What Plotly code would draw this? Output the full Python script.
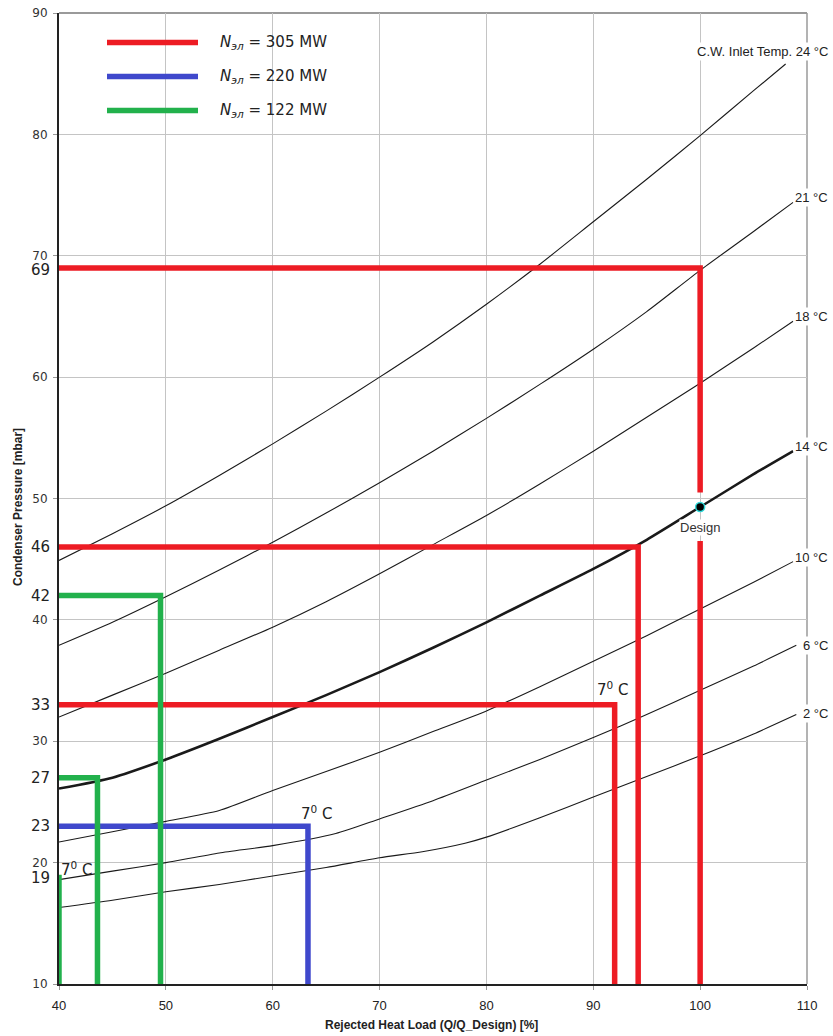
import plotly.graph_objects as go

# ---- condenser characteristic: rejected heat load [%] -> condenser pressure [mbar]
load_t24 = [40, 45, 50, 55, 60, 65, 70, 75, 80, 85, 90, 95, 100, 105, 108]
pres_t24 = [44.9, 47.1, 49.4, 51.9, 54.5, 57.2, 60.0, 62.9, 66.0, 69.3, 72.8, 76.3, 79.9, 83.6, 85.8]

load_t21 = [40, 45, 50, 55, 60, 65, 70, 75, 80, 85, 90, 95, 100, 105, 108.7]
pres_t21 = [37.9, 39.8, 41.9, 44.1, 46.4, 48.8, 51.3, 53.9, 56.6, 59.4, 62.3, 65.4, 68.8, 72.0, 74.4]

load_t18 = [40, 45, 50, 55, 60, 65, 70, 75, 80, 85, 90, 95, 100, 105, 108.7]
pres_t18 = [32.0, 33.8, 35.6, 37.5, 39.4, 41.5, 43.8, 46.2, 48.6, 51.2, 53.9, 56.7, 59.5, 62.4, 64.6]

load_t14 = [40, 45, 50, 55, 60, 65, 70, 75, 80, 85, 90, 95, 100, 105, 108.7]
pres_t14 = [26.1, 27.0, 28.5, 30.2, 32.0, 33.8, 35.7, 37.7, 39.8, 42.0, 44.2, 46.6, 49.3, 52.0, 53.9]

load_t10 = [40, 45, 50, 55, 60, 65, 70, 75, 80, 85, 90, 95, 100, 105, 108.7]
pres_t10 = [21.7, 22.55, 23.4, 24.3, 25.95, 27.5, 29.1, 30.8, 32.5, 34.5, 36.6, 38.7, 40.9, 43.1, 44.8]

load_t6 = [40, 45, 50, 55, 60, 65.9, 70, 75, 80, 85, 90, 95, 100, 105, 109]
pres_t6 = [18.6, 19.3, 20.0, 20.8, 21.4, 22.4, 23.6, 25.1, 26.8, 28.5, 30.3, 32.2, 34.2, 36.2, 37.9]

load_t2 = [40, 45, 50, 55, 60, 65, 70, 74, 78, 80, 85, 90, 95, 100, 105, 109]
pres_t2 = [16.3, 16.9, 17.6, 18.2, 18.9, 19.6, 20.4, 20.9, 21.6, 22.1, 23.7, 25.4, 27.1, 28.8, 30.6, 32.2]

curve_names = ["C.W. Inlet Temp. 24 °C", "21 °C", "18 °C", "14 °C", "10 °C", "6 °C", "2 °C"]

design_load = [100]
design_pres = [49.3]

# ---- operating points for the three electrical loads
load_305 = [100, 94.2, 92]
pres_305 = [69, 46, 33]
gap_305 = [50.5, 46.5]          # break of the 100 % line around the design point

load_220 = [63.3]
pres_220 = [23]

load_122 = [49.5, 43.6, 40]
pres_122 = [42, 27, 19]

legend_text = ["<i>N<sub>эл</sub></i> = 305 MW",
               "<i>N<sub>эл</sub></i> = 220 MW",
               "<i>N<sub>эл</sub></i> = 122 MW"]

x_ticks = [40, 50, 60, 70, 80, 90, 100, 110]
y_ticks = [10, 20, 30, 40, 50, 60, 70, 80, 90]

RED, BLUE, GREEN = "#ED1C24", "#3F48CC", "#22B14C"
P_MIN = 10

# plot-area geometry in pixels (for paper-coordinate helpers)
W, H = 833, 1036
ML, MR, MT, MB = 59, 26, 13, 52
PW, PH = W - ML - MR, H - MT - MB


def px_x(p):
    return (p - ML) / PW


def px_y(p):
    return (H - MB - p) / PH


fig = go.Figure()

curves = [
    (load_t24, pres_t24, 1.1), (load_t21, pres_t21, 1.1), (load_t18, pres_t18, 1.1),
    (load_t14, pres_t14, 2.6), (load_t10, pres_t10, 1.1), (load_t6, pres_t6, 1.1),
    (load_t2, pres_t2, 1.1),
]
for (lx, py, lw), name in zip(curves, curve_names):
    fig.add_trace(go.Scatter(x=lx, y=py, mode="lines", name=name,
                             line=dict(color="#1a1a1a", width=lw, shape="spline", smoothing=0.6),
                             hoverinfo="skip", showlegend=False))


def step_path(load, pres):
    """horizontal from the axis to the curve, then down to the bottom axis"""
    xs, ys = [], []
    for l, p in zip(load, pres):
        xs += [40, l, l, None]
        ys += [p, p, P_MIN, None]
    return xs, ys


# 305 MW: first path is broken around the design marker
xs = [40, load_305[0], load_305[0], None, load_305[0], load_305[0], None]
ys = [pres_305[0], pres_305[0], gap_305[0], None, gap_305[1], P_MIN, None]
x2, y2 = step_path(load_305[1:], pres_305[1:])
fig.add_trace(go.Scatter(x=xs + x2, y=ys + y2, mode="lines", cliponaxis=False,
                         line=dict(color=RED, width=5.5), showlegend=False, hoverinfo="skip"))

xb, yb = step_path(load_220, pres_220)
fig.add_trace(go.Scatter(x=xb, y=yb, mode="lines", cliponaxis=False,
                         line=dict(color=BLUE, width=5.5), showlegend=False, hoverinfo="skip"))

xg, yg = step_path(load_122, pres_122)
fig.add_trace(go.Scatter(x=xg, y=yg, mode="lines", cliponaxis=False,
                         line=dict(color=GREEN, width=5.5), showlegend=False, hoverinfo="skip"))

# design point
fig.add_trace(go.Scatter(x=design_load, y=design_pres, mode="markers", cliponaxis=False,
                         marker=dict(color="black", size=9, line=dict(color="#2FD9D9", width=1.5)),
                         showlegend=False, hoverinfo="skip"))

annotations = []

# curve labels, right-aligned past the frame
label_dy = [12, 5, 5, 4.5, 4, 0, 1.5]
for (lx, py, _), name, dy in zip(curves, curve_names, label_dy):
    annotations.append(dict(x=px_x(830), xref="paper", y=py[-1], yref="y",
                            text=name, showarrow=False, xanchor="right", yanchor="middle",
                            yshift=dy, bgcolor="white", borderpad=1,
                            font=dict(family="Liberation Sans, Arial", size=13, color="#222")))

annotations.append(dict(x=design_load[0], y=design_pres[0], xref="x", yref="y",
                        text="Design", showarrow=False, yshift=-20, bgcolor="white", borderpad=0,
                        xanchor="center", yanchor="middle",
                        font=dict(family="Liberation Sans, Arial", size=13, color="#333")))

# operating pressures written next to the y axis
press_dy = {69: -2, 19: -3}
for p in pres_305 + pres_220 + pres_122:
    annotations.append(dict(x=0, xref="paper", y=p, yref="y", text=str(p),
                            showarrow=False, xanchor="right", yanchor="middle", xshift=-7,
                            yshift=press_dy.get(p, 0),
                            font=dict(family="DejaVu Sans, Verdana", size=15, color="#222")))

# 7 °C markers at the corresponding corners
seven_c = [(load_305[2], pres_305[2], -2, 16), (load_220[0], pres_220[0], 9, 13),
           (load_122[2], pres_122[2], 17, 6)]
for lx, py, dx, dy in seven_c:
    annotations.append(dict(x=lx, y=py, xref="x", yref="y", text="7<sup>0</sup> C",
                            showarrow=False, xshift=dx, yshift=dy,
                            xanchor="center", yanchor="middle",
                            font=dict(family="DejaVu Sans, Verdana", size=15, color="#222")))

# axis titles
annotations.append(dict(x=px_x(18), y=px_y(507), xref="paper", yref="paper",
                        xanchor="center", yanchor="middle",
                        text="<b>Condenser Pressure [mbar]</b>", textangle=-90, showarrow=False,
                        font=dict(family="Liberation Sans, Arial", size=12, color="#222")))
annotations.append(dict(x=px_x(431), y=px_y(1025), xref="paper", yref="paper",
                        xanchor="center", yanchor="middle",
                        text="<b>Rejected Heat Load (Q/Q_Design) [%]</b>", showarrow=False,
                        font=dict(family="Liberation Sans, Arial", size=12, color="#222")))

# legend block
legend_rows = [42.5, 76.5, 110.5]
shapes = []
for row, col, txt in zip(legend_rows, [RED, BLUE, GREEN], legend_text):
    shapes.append(dict(type="line", xref="paper", yref="paper",
                       x0=px_x(107), x1=px_x(198), y0=px_y(row), y1=px_y(row),
                       line=dict(color=col, width=5.5)))
    annotations.append(dict(x=px_x(218), y=px_y(row), xref="paper", yref="paper",
                            text=txt, showarrow=False, xanchor="left", yanchor="middle",
                            font=dict(family="DejaVu Sans, Verdana", size=15, color="#222")))

# gray frame on top and right
shapes.append(dict(type="line", xref="paper", yref="paper", x0=0, x1=1, y0=1, y1=1,
                   line=dict(color="#9a9a9a", width=2), layer="below"))
shapes.append(dict(type="line", xref="paper", yref="paper", x0=1, x1=1, y0=0, y1=1,
                   line=dict(color="#9a9a9a", width=1.5), layer="below"))

fig.update_layout(
    width=W, height=H,
    margin=dict(l=ML, r=MR, t=MT, b=MB, autoexpand=False),
    paper_bgcolor="white", plot_bgcolor="white",
    showlegend=False,
    annotations=annotations,
    shapes=shapes,
    xaxis=dict(range=[40, 110], tickvals=x_ticks, showgrid=True, gridcolor="#c4c4c4", gridwidth=1,
               zeroline=False, showline=True, linecolor="#222", linewidth=2, automargin=False,
               ticks="outside", ticklen=4, tickcolor="#999", layer="below traces",
               ticklabelstandoff=4,
               tickfont=dict(family="Liberation Sans, Arial", size=13, color="#222")),
    yaxis=dict(range=[10, 90], tickvals=y_ticks, showgrid=True, gridcolor="#c4c4c4", gridwidth=1,
               zeroline=False, showline=True, linecolor="#222", linewidth=2, automargin=False,
               ticks="outside", ticklen=4, tickcolor="#999", layer="below traces",
               ticklabelstandoff=3,
               tickfont=dict(family="DejaVu Sans, Verdana", size=12, color="#333")),
)

fig.write_html("out.html")
